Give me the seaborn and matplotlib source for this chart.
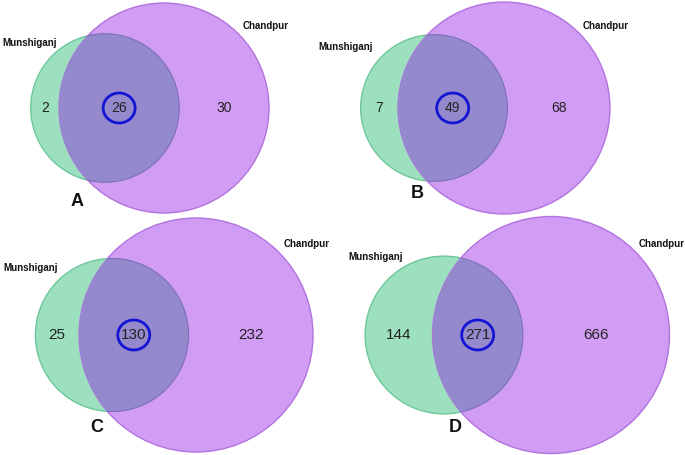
import numpy as np
import matplotlib
matplotlib.use("Agg")
import matplotlib.pyplot as plt
from matplotlib.patches import Circle, Ellipse
import seaborn as sns

# ---- data ----
panels = ["A", "B", "C", "D"]
only_munshiganj = [2, 7, 25, 144]
shared = [26, 49, 130, 271]
only_chandpur = [30, 68, 232, 666]
set_names = ["Munshiganj", "Chandpur"]

sns.set_theme(style="white")
plt.rcParams['font.family'] = ['Liberation Sans', 'DejaVu Sans']

green_face = "#9de0c0"
green_edge = "#6cc79a"
purple_face = "#d19cf4"
purple_edge = "#b272e0"
overlap_face = "#9389cc"
ring_color = "#1414d4"

# layout (pixels): purple centre x, y, purple radius, centre-distance (in purple radii)
layout = [(164, 108, 105, 0.562), (504, 108, 106, 0.66), (196, 335, 117, 0.718), (551, 335, 118.5, 0.903)]
letter_pos = [(77, 201), (417, 194), (97, 427), (455, 427)]
mlabel_pos = [(2, 43), (318, 47), (3, 268), (348, 257)]
clabel_pos = [(243, 26), (583, 26), (284, 244), (639, 244)]

fig = plt.figure(figsize=(6.85, 4.55), dpi=100)
ax = fig.add_axes([0, 0, 1, 1])
ax.set_xlim(0, 685)
ax.set_ylim(455, 0)
ax.set_aspect("equal")
ax.axis("off")

for i in range(4):
    m_total = only_munshiganj[i] + shared[i]
    c_total = only_chandpur[i] + shared[i]
    r_c = 1.0
    r_m = np.sqrt(m_total / c_total)

    cx, cy, s, d = layout[i]
    gx = cx - d * s
    rg = r_m * s
    rp = r_c * s

    green = Circle((gx, cy), rg, facecolor=green_face, edgecolor=green_edge, lw=1.0, zorder=1)
    purple = Circle((cx, cy), rp, facecolor=purple_face, edgecolor=purple_edge, lw=1.0, zorder=2)
    ax.add_patch(green)
    ax.add_patch(purple)
    inter = Circle((gx, cy), rg, facecolor=overlap_face, edgecolor="#7a70b8", lw=0.8, zorder=3)
    ax.add_patch(inter)
    inter.set_clip_path(purple)

    # label positions: midpoints of the regions along the centre line
    x_m = 0.5 * ((gx - rg) + (cx - rp))
    x_s = 0.5 * ((cx - rp) + (gx + rg))
    x_c = 0.5 * ((gx + rg) + (cx + rp))
    fs = 10 if i < 2 else 11
    ax.text(x_m, cy, str(only_munshiganj[i]), ha="center", va="center", fontsize=fs, color="#222222", zorder=5)
    ax.text(x_s, cy, str(shared[i]), ha="center", va="center", fontsize=fs, color="#222222", zorder=5)
    ax.text(x_c, cy, str(only_chandpur[i]), ha="center", va="center", fontsize=fs, color="#222222", zorder=5)
    ax.add_patch(Ellipse((x_s, cy), 32, 30, facecolor="none", edgecolor=ring_color, lw=2.0, zorder=6))

    ax.text(*mlabel_pos[i], set_names[0], ha="left", va="center", fontsize=7,
            fontweight="bold", color="#111111", zorder=5)
    ax.text(*clabel_pos[i], set_names[1], ha="left", va="center", fontsize=7,
            fontweight="bold", color="#111111", zorder=5)
    ax.text(*letter_pos[i], panels[i], ha="center", va="center", fontsize=13,
            fontweight="bold", color="#111111", zorder=5)

fig.savefig("out.png", dpi=100, facecolor="white")
